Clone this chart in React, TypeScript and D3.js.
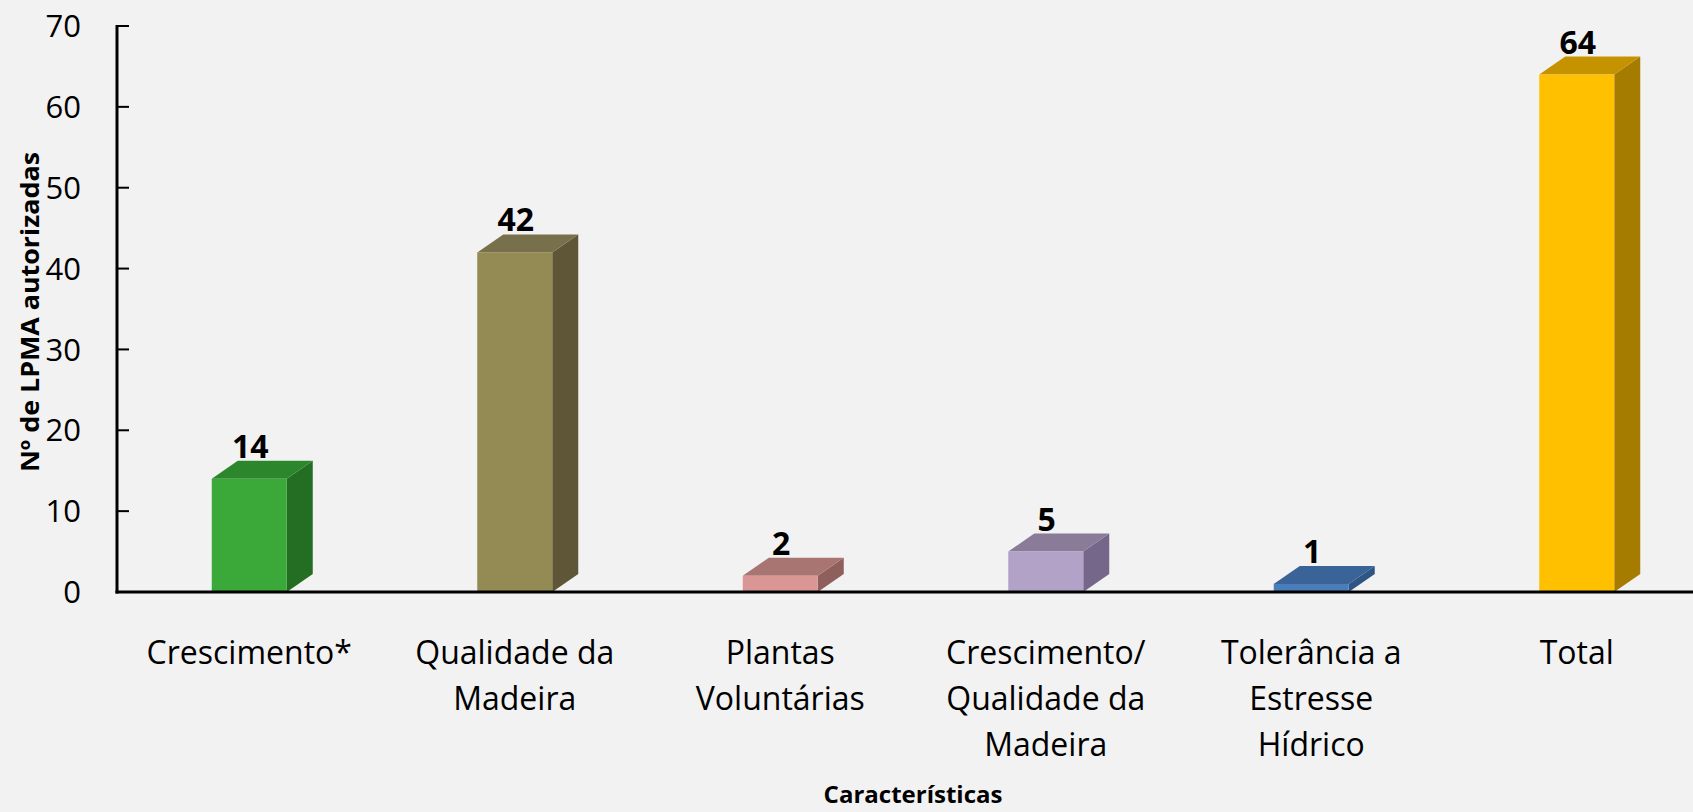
import React from "react";
import * as d3 from "d3";

const categories: string[][] = [
  ["Crescimento*"],
  ["Qualidade da", "Madeira"],
  ["Plantas", "Voluntárias"],
  ["Crescimento/", "Qualidade da", "Madeira"],
  ["Tolerância a", "Estresse", "Hídrico"],
  ["Total"],
];
const values: number[] = [14, 42, 2, 5, 1, 64];
const frontColors = ["#3aa93a", "#948b54", "#d99694", "#b3a2c7", "#4a7ebb", "#ffc000"];
const topColors = ["#2c872c", "#78704a", "#a87572", "#8a7b98", "#3a6398", "#c69300"];
const sideColors = ["#236e23", "#5e5636", "#8f5f5d", "#75678a", "#2f5585", "#a67c00"];
const yTicks = [0, 10, 20, 30, 40, 50, 60, 70];
const yTitle = "Nº de LPMA autorizadas";
const xTitle = "Características";

const W = 1693;
const H = 812;
const FONT = "'Open Sans', 'Noto Sans', sans-serif";

export default function App() {
  const keys = categories.map((c) => c.join(" "));
  const x = d3.scaleBand<string>().domain(keys).range([116.5, 116.5 + 6 * 265.5]).padding(0);
  const y = d3.scaleLinear().domain([0, 70]).range([592, 26]);
  const frontW = 75;
  const dx = 26;
  const dy = 18;
  const axisX = 117;
  const axisY = y(0);

  return (
    <svg
      width={W}
      height={H}
      style={{ position: "absolute", left: 0, top: 0, background: "#f2f2f2" }}
    >
      <rect x={0} y={0} width={W} height={H} fill="#f2f2f2" />
      {values.map((v, i) => {
        const cx = (x(keys[i]) as number) + x.bandwidth() / 2;
        const x0 = cx - frontW / 2;
        const x1 = cx + frontW / 2;
        const yt = y(v);
        const yb = axisY;
        const top = `M${x0},${yt} L${x0 + dx},${yt - dy} L${x1 + dx},${yt - dy} L${x1},${yt} Z`;
        const side = `M${x1},${yt} L${x1 + dx},${yt - dy} L${x1 + dx},${yb - dy} L${x1},${yb} Z`;
        return (
          <g key={i}>
            <path d={side} fill={sideColors[i]} />
            <path d={top} fill={topColors[i]} />
            <rect x={x0} y={yt} width={frontW} height={yb - yt} fill={frontColors[i]} />
            <text
              x={cx + 1}
              y={yt - dy - 3}
              textAnchor="middle"
              fontFamily={FONT}
              fontWeight="bold"
              fontSize={32}
              fill="#000"
            >
              {v}
            </text>
          </g>
        );
      })}
      {/* axes */}
      <line x1={axisX} y1={y(70) - 1} x2={axisX} y2={axisY + 1.5} stroke="#000" strokeWidth={3} />
      <line x1={axisX - 1.5} y1={axisY} x2={W} y2={axisY} stroke="#000" strokeWidth={3} />
      {yTicks.map((t) => (
        <g key={t}>
          {t > 0 && (
            <line x1={axisX} y1={y(t)} x2={axisX + 12} y2={y(t)} stroke="#000" strokeWidth={2} />
          )}
          <text
            x={81}
            y={y(t)}
            dy="0.36em"
            textAnchor="end"
            fontFamily={FONT}
            fontSize={31}
            fill="#000"
          >
            {t}
          </text>
        </g>
      ))}
      {categories.map((lines, i) => {
        const cx = (x(keys[i]) as number) + x.bandwidth() / 2;
        return (
          <text key={i} textAnchor="middle" fontFamily={FONT} fontSize={32} fill="#000">
            {lines.map((l, j) => (
              <tspan key={j} x={cx} y={664 + j * 46}>
                {l}
              </tspan>
            ))}
          </text>
        );
      })}
      <text
        transform={`translate(39,312) rotate(-90)`}
        textAnchor="middle"
        fontFamily={FONT}
        fontWeight="bold"
        fontSize={25}
        textLength={320}
        lengthAdjust="spacingAndGlyphs"
        fill="#000"
      >
        {yTitle}
      </text>
      <text
        x={913}
        y={803}
        textAnchor="middle"
        fontFamily={FONT}
        fontWeight="bold"
        fontSize={24}
        fill="#000"
      >
        {xTitle}
      </text>
    </svg>
  );
}
